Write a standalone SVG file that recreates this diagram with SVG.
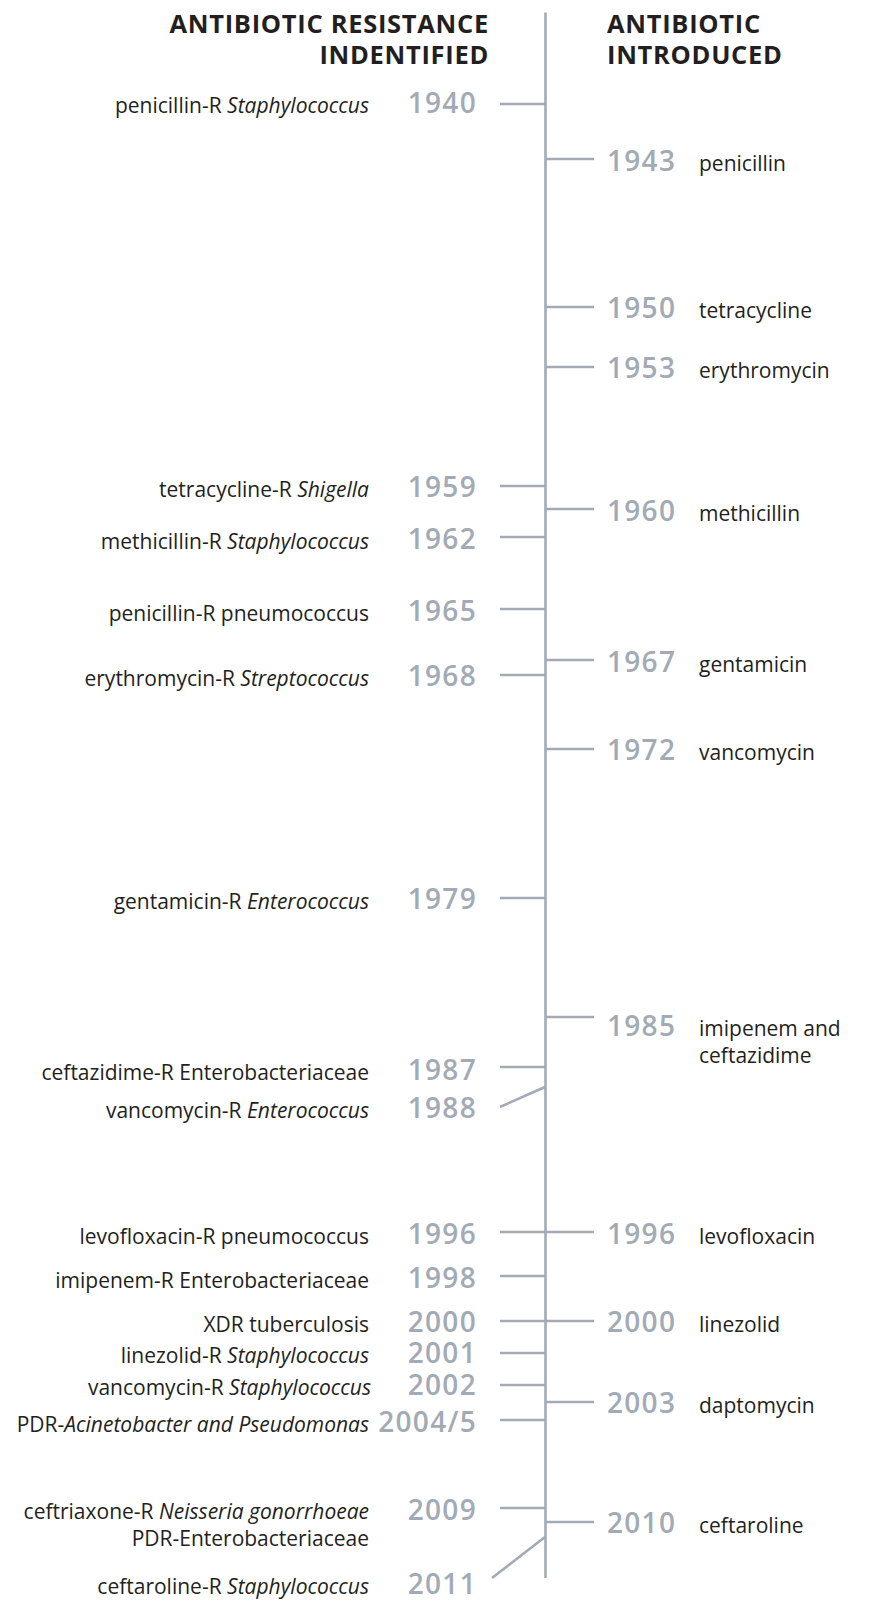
<svg xmlns="http://www.w3.org/2000/svg" width="879" height="1613" viewBox="0 0 879 1613">
<style>
.hd{font-family:"Open Sans","Liberation Sans",sans-serif;font-weight:700;font-size:25.5px;fill:#231f20;letter-spacing:0.7px}
.yr{font-family:"Open Sans","Liberation Sans",sans-serif;font-weight:600;font-size:28px;fill:#a2abb5;letter-spacing:1.3px}
.lb{font-family:"Open Sans","Liberation Sans",sans-serif;font-size:21px;fill:#231f20}
.l{text-anchor:end}
.it{font-style:italic}
.ln{stroke:#a2abb5;stroke-width:2.6;fill:none}
</style>
<g id="headers">
<text class="hd l" x="489" y="33">ANTIBIOTIC RESISTANCE</text>
<text class="hd l" x="489" y="64">INDENTIFIED</text>
<text class="hd" x="607" y="33">ANTIBIOTIC</text>
<text class="hd" x="607" y="64">INTRODUCED</text>
</g>
<g id="connectors">
<line class="ln" x1="545.5" y1="12.5" x2="545.5" y2="1578"/>
<line class="ln" x1="500" y1="104" x2="545" y2="104"/>
<line class="ln" x1="500" y1="486" x2="545" y2="486"/>
<line class="ln" x1="500" y1="537" x2="545" y2="537"/>
<line class="ln" x1="500" y1="609" x2="545" y2="609"/>
<line class="ln" x1="500" y1="675" x2="545" y2="675"/>
<line class="ln" x1="500" y1="898" x2="545" y2="898"/>
<line class="ln" x1="500" y1="1067" x2="545" y2="1067"/>
<line class="ln" x1="500" y1="1107" x2="545" y2="1087"/>
<line class="ln" x1="500" y1="1232" x2="545" y2="1232"/>
<line class="ln" x1="500" y1="1276" x2="545" y2="1276"/>
<line class="ln" x1="500" y1="1321" x2="545" y2="1321"/>
<line class="ln" x1="500" y1="1353" x2="545" y2="1353"/>
<line class="ln" x1="500" y1="1385" x2="545" y2="1385"/>
<line class="ln" x1="500" y1="1420" x2="545" y2="1420"/>
<line class="ln" x1="500" y1="1508" x2="545" y2="1508"/>
<line class="ln" x1="492" y1="1578" x2="545" y2="1537"/>
<line class="ln" x1="546" y1="159" x2="594" y2="159"/>
<line class="ln" x1="546" y1="307" x2="594" y2="307"/>
<line class="ln" x1="546" y1="367" x2="594" y2="367"/>
<line class="ln" x1="546" y1="509" x2="594" y2="509"/>
<line class="ln" x1="546" y1="660" x2="594" y2="660"/>
<line class="ln" x1="546" y1="749" x2="594" y2="749"/>
<line class="ln" x1="546" y1="1017" x2="594" y2="1017"/>
<line class="ln" x1="546" y1="1232" x2="594" y2="1232"/>
<line class="ln" x1="546" y1="1321" x2="594" y2="1321"/>
<line class="ln" x1="546" y1="1402" x2="594" y2="1402"/>
<line class="ln" x1="546" y1="1522" x2="594" y2="1522"/>
</g>
<g id="r1940"><text class="yr l" x="477" y="113">1940</text><text class="lb l" x="369" y="113">penicillin-R <tspan class="it">Staphylococcus</tspan></text></g>
<g id="r1959"><text class="yr l" x="477" y="497">1959</text><text class="lb l" x="369" y="497">tetracycline-R <tspan class="it">Shigella</tspan></text></g>
<g id="r1962"><text class="yr l" x="477" y="549">1962</text><text class="lb l" x="369" y="549">methicillin-R <tspan class="it">Staphylococcus</tspan></text></g>
<g id="r1965"><text class="yr l" x="477" y="621">1965</text><text class="lb l" x="369" y="621">penicillin-R pneumococcus</text></g>
<g id="r1968"><text class="yr l" x="477" y="686">1968</text><text class="lb l" x="369" y="686">erythromycin-R <tspan class="it">Streptococcus</tspan></text></g>
<g id="r1979"><text class="yr l" x="477" y="909">1979</text><text class="lb l" x="369" y="909">gentamicin-R <tspan class="it">Enterococcus</tspan></text></g>
<g id="r1987"><text class="yr l" x="477" y="1080">1987</text><text class="lb l" x="369" y="1080">ceftazidime-R Enterobacteriaceae</text></g>
<g id="r1988"><text class="yr l" x="477" y="1118">1988</text><text class="lb l" x="369" y="1118">vancomycin-R <tspan class="it">Enterococcus</tspan></text></g>
<g id="r1996"><text class="yr l" x="477" y="1244">1996</text><text class="lb l" x="369" y="1244">levofloxacin-R pneumococcus</text></g>
<g id="r1998"><text class="yr l" x="477" y="1288">1998</text><text class="lb l" x="369" y="1288">imipenem-R Enterobacteriaceae</text></g>
<g id="r2000"><text class="yr l" x="477" y="1332">2000</text><text class="lb l" x="369" y="1332">XDR tuberculosis</text></g>
<g id="r2001"><text class="yr l" x="477" y="1363">2001</text><text class="lb l" x="369" y="1363">linezolid-R <tspan class="it">Staphylococcus</tspan></text></g>
<g id="r2002"><text class="yr l" x="477" y="1395">2002</text><text class="lb l" x="371" y="1395">vancomycin-R <tspan class="it">Staphylococcus</tspan></text></g>
<g id="r2004"><text class="yr l" x="477" y="1432">2004/5</text><text class="lb l" x="369" y="1432">PDR-<tspan class="it">Acinetobacter and Pseudomonas</tspan></text></g>
<g id="r2009"><text class="yr l" x="477" y="1520">2009</text><text class="lb l" x="369" y="1519">ceftriaxone-R <tspan class="it">Neisseria gonorrhoeae</tspan></text><text class="lb l" x="369" y="1546">PDR-Enterobacteriaceae</text></g>
<g id="r2011"><text class="yr l" x="477" y="1594">2011</text><text class="lb l" x="369" y="1594">ceftaroline-R <tspan class="it">Staphylococcus</tspan></text></g>
<g id="i1943"><text class="yr" x="607" y="171">1943</text><text class="lb" x="699" y="171">penicillin</text></g>
<g id="i1950"><text class="yr" x="607" y="318">1950</text><text class="lb" x="699" y="318">tetracycline</text></g>
<g id="i1953"><text class="yr" x="607" y="378">1953</text><text class="lb" x="699" y="378">erythromycin</text></g>
<g id="i1960"><text class="yr" x="607" y="521">1960</text><text class="lb" x="699" y="521">methicillin</text></g>
<g id="i1967"><text class="yr" x="607" y="672">1967</text><text class="lb" x="699" y="672">gentamicin</text></g>
<g id="i1972"><text class="yr" x="607" y="760">1972</text><text class="lb" x="699" y="760">vancomycin</text></g>
<g id="i1985"><text class="yr" x="607" y="1036">1985</text><text class="lb" x="699" y="1036">imipenem and</text><text class="lb" x="699" y="1063">ceftazidime</text></g>
<g id="i1996"><text class="yr" x="607" y="1244">1996</text><text class="lb" x="699" y="1244">levofloxacin</text></g>
<g id="i2000"><text class="yr" x="607" y="1332">2000</text><text class="lb" x="699" y="1332">linezolid</text></g>
<g id="i2003"><text class="yr" x="607" y="1413">2003</text><text class="lb" x="699" y="1413">daptomycin</text></g>
<g id="i2010"><text class="yr" x="607" y="1533">2010</text><text class="lb" x="699" y="1533">ceftaroline</text></g>
</svg>
